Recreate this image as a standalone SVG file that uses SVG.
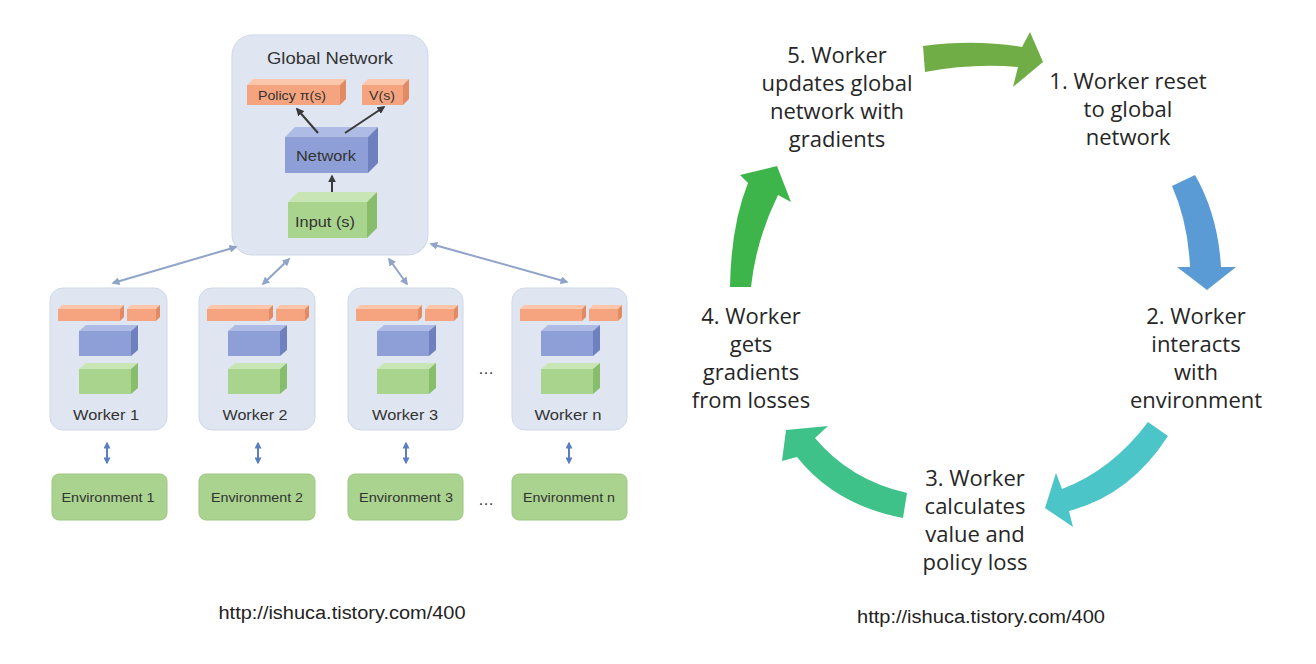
<svg xmlns="http://www.w3.org/2000/svg" xmlns:xlink="http://www.w3.org/1999/xlink" width="1316" height="664" viewBox="0 0 1316 664">
<style>
.panel{fill:#dfe6f2;stroke:#cfd8e8;stroke-width:1}
.env{fill:#a9d38e;stroke:#9cc781;stroke-width:1}
.of{fill:#f6a47f}.ot{fill:#fbc6aa}.os{fill:#e38a62}
.bf{fill:#8d9fd6}.bt{fill:#aebbe5}.bs{fill:#6f80bf}
.gf{fill:#a8d48e}.gt{fill:#c8e6b5}.gs{fill:#88bd6b}
.lbl{font-family:"Liberation Sans",Arial,sans-serif;fill:#333;text-anchor:middle}
.step{font-family:"Open Sans","Liberation Sans",sans-serif;font-size:22px;fill:#262626;text-anchor:middle}
.url{font-family:"Liberation Sans",Arial,sans-serif;font-size:18px;fill:#222;text-anchor:middle}
.dark{stroke:#3a3a3a;stroke-width:2;fill:none}
.link{stroke:#8fa4c8;stroke-width:2;fill:none}
.envlink{stroke:#5a7ec2;stroke-width:2;fill:none}
</style>
<defs>
<marker id="ah" viewBox="0 0 10 10" refX="8" refY="5" markerWidth="4" markerHeight="4" orient="auto-start-reverse">
<path d="M0,0 L10,5 L0,10 Z" fill="#3a3a3a"/>
</marker>
<marker id="lh" viewBox="0 0 10 10" refX="8" refY="5" markerWidth="4" markerHeight="4" orient="auto-start-reverse">
<path d="M0,0 L10,5 L0,10 Z" fill="#8fa4c8"/>
</marker>
<marker id="eh" viewBox="0 0 10 10" refX="8" refY="5" markerWidth="3.5" markerHeight="3.5" orient="auto-start-reverse">
<path d="M0,0 L10,5 L0,10 Z" fill="#5a7ec2"/>
</marker>
<g id="parts">
<rect class="of" x="8" y="309" width="62" height="12"/>
<polygon class="ot" points="8,309 12,305 74,305 70,309"/>
<polygon class="os" points="70,309 74,305 74,317 70,321"/>
<rect class="of" x="77" y="309" width="29" height="12"/>
<polygon class="ot" points="77,309 81,305 110,305 106,309"/>
<polygon class="os" points="106,309 110,305 110,317 106,321"/>
<rect class="bf" x="29" y="331" width="52" height="25"/>
<polygon class="bt" points="29,331 36,325 88,325 81,331"/>
<polygon class="bs" points="81,331 88,325 88,350 81,356"/>
<rect class="gf" x="29" y="369" width="52" height="25"/>
<polygon class="gt" points="29,369 36,363 88,363 81,369"/>
<polygon class="gs" points="81,369 88,363 88,388 81,394"/>
</g>
</defs>
<rect width="1316" height="664" fill="#ffffff"/>

<g id="global">
<rect class="panel" x="232" y="35" width="196" height="220" rx="20"/>
<text class="lbl" x="330" y="64" font-size="16" textLength="126" lengthAdjust="spacingAndGlyphs">Global Network</text>
<g id="policy">
<rect class="of" x="247" y="85" width="93" height="20"/>
<polygon class="ot" points="247,85 253,79 346,79 340,85"/>
<polygon class="os" points="340,85 346,79 346,99 340,105"/>
<text class="lbl" x="292" y="100" font-size="13" textLength="68" lengthAdjust="spacingAndGlyphs">Policy π(s)</text>
</g>
<g id="value">
<rect class="of" x="362" y="85" width="41" height="20"/>
<polygon class="ot" points="362,85 368,79 409,79 403,85"/>
<polygon class="os" points="403,85 409,79 409,99 403,105"/>
<text class="lbl" x="382" y="100" font-size="13" textLength="26" lengthAdjust="spacingAndGlyphs">V(s)</text>
</g>
<g id="network">
<rect class="bf" x="285" y="137" width="83" height="36"/>
<polygon class="bt" points="285,137 295,127 378,127 368,137"/>
<polygon class="bs" points="368,137 378,127 378,163 368,173"/>
<text class="lbl" x="326" y="161" font-size="14" textLength="60" lengthAdjust="spacingAndGlyphs">Network</text>
</g>
<g id="input">
<rect class="gf" x="288" y="202" width="79" height="36"/>
<polygon class="gt" points="288,202 298,192 377,192 367,202"/>
<polygon class="gs" points="367,202 377,192 377,228 367,238"/>
<text class="lbl" x="325" y="227" font-size="14" textLength="60" lengthAdjust="spacingAndGlyphs">Input (s)</text>
</g>
</g>

<g id="worker1"><rect class="panel" x="50" y="288" width="117" height="142" rx="13"/><use xlink:href="#parts" transform="translate(50,0)"/><text class="lbl" x="106" y="420" font-size="15" textLength="66" lengthAdjust="spacingAndGlyphs">Worker 1</text></g>
<g id="worker2"><rect class="panel" x="199" y="288" width="116" height="142" rx="13"/><use xlink:href="#parts" transform="translate(199,0)"/><text class="lbl" x="255" y="420" font-size="15" textLength="65" lengthAdjust="spacingAndGlyphs">Worker 2</text></g>
<g id="worker3"><rect class="panel" x="348" y="288" width="115" height="142" rx="13"/><use xlink:href="#parts" transform="translate(348,0)"/><text class="lbl" x="405" y="420" font-size="15" textLength="66" lengthAdjust="spacingAndGlyphs">Worker 3</text></g>
<g id="workern"><rect class="panel" x="512" y="288" width="115" height="142" rx="13"/><use xlink:href="#parts" transform="translate(512,0)"/><text class="lbl" x="568" y="420" font-size="15" textLength="67" lengthAdjust="spacingAndGlyphs">Worker n</text></g>

<g id="env1"><rect class="env" x="52" y="474" width="115" height="46" rx="7"/><text class="lbl" x="108" y="502" font-size="13" textLength="93" lengthAdjust="spacingAndGlyphs">Environment 1</text></g>
<g id="env2"><rect class="env" x="199" y="474" width="116" height="46" rx="7"/><text class="lbl" x="257" y="502" font-size="13" textLength="92" lengthAdjust="spacingAndGlyphs">Environment 2</text></g>
<g id="env3"><rect class="env" x="348" y="474" width="115" height="46" rx="7"/><text class="lbl" x="406" y="502" font-size="13" textLength="94" lengthAdjust="spacingAndGlyphs">Environment 3</text></g>
<g id="envn"><rect class="env" x="512" y="474" width="115" height="46" rx="7"/><text class="lbl" x="569" y="502" font-size="13" textLength="92" lengthAdjust="spacingAndGlyphs">Environment n</text></g>

<g id="dots">
<text class="lbl" x="486" y="374" font-size="16">…</text>
<text class="lbl" x="486" y="505" font-size="16">…</text>
</g>

<g id="connectors">
<line class="dark" x1="318" y1="133" x2="297" y2="109" marker-end="url(#ah)"/>
<line class="dark" x1="345" y1="133" x2="384" y2="107" marker-end="url(#ah)"/>
<line class="dark" x1="332" y1="192" x2="332" y2="176" marker-end="url(#ah)"/>
<line class="link" x1="236" y1="247" x2="113" y2="283" marker-start="url(#lh)" marker-end="url(#lh)"/>
<line class="link" x1="289" y1="259" x2="263" y2="284" marker-start="url(#lh)" marker-end="url(#lh)"/>
<line class="link" x1="389" y1="259" x2="407" y2="284" marker-start="url(#lh)" marker-end="url(#lh)"/>
<line class="link" x1="431" y1="244" x2="567" y2="282" marker-start="url(#lh)" marker-end="url(#lh)"/>
<line class="envlink" x1="107" y1="443" x2="107" y2="463" marker-start="url(#eh)" marker-end="url(#eh)"/>
<line class="envlink" x1="258" y1="443" x2="258" y2="463" marker-start="url(#eh)" marker-end="url(#eh)"/>
<line class="envlink" x1="406" y1="443" x2="406" y2="463" marker-start="url(#eh)" marker-end="url(#eh)"/>
<line class="envlink" x1="569" y1="443" x2="569" y2="463" marker-start="url(#eh)" marker-end="url(#eh)"/>

<path id="arrow51" fill="#70ad47" d="M923 46 Q975 39 1022 47 L1030 32 L1043 62 L1013 87 L1018 67 Q972 63 925 72 Z"/>
<path id="arrow12" fill="#5b9bd5" d="M1172 186 Q1188 222 1190 267 L1177 267 L1207 290 L1236 267 L1221 267 Q1218 215 1195 175 Z"/>
<path id="arrow23" fill="#4bc5c8" d="M1148 422 Q1112 470 1062 489 L1056 473 L1045 508 L1073 527 L1069 511 Q1130 495 1168 436 Z"/>
<path id="arrow34" fill="#3ec28a" d="M907 493 Q850 480 815 438 L828 426 L786 430 L782 461 L797 457 Q835 505 903 518 Z"/>
<path id="arrow45" fill="#3db54a" d="M730 287 Q731 225 748 183 L740 175 L777 166 L791 202 L778 195 Q756 240 751 287 Z"/>
</g>

<g id="step5"><text class="step" x="837" y="63">5. Worker</text><text class="step" x="837" y="91">updates global</text><text class="step" x="837" y="119">network with</text><text class="step" x="837" y="147">gradients</text></g>
<g id="step1"><text class="step" x="1128" y="89">1. Worker reset</text><text class="step" x="1128" y="117">to global</text><text class="step" x="1128" y="145">network</text></g>
<g id="step2"><text class="step" x="1196" y="324">2. Worker</text><text class="step" x="1196" y="352">interacts</text><text class="step" x="1196" y="380">with</text><text class="step" x="1196" y="408">environment</text></g>
<g id="step3"><text class="step" x="975" y="486">3. Worker</text><text class="step" x="975" y="514">calculates</text><text class="step" x="975" y="542">value and</text><text class="step" x="975" y="570">policy loss</text></g>
<g id="step4"><text class="step" x="751" y="324">4. Worker</text><text class="step" x="751" y="352">gets</text><text class="step" x="751" y="380">gradients</text><text class="step" x="751" y="408">from losses</text></g>

<text class="url" x="342" y="619" textLength="247" lengthAdjust="spacingAndGlyphs">http://ishuca.tistory.com/400</text>
<text class="url" x="981" y="623" textLength="248" lengthAdjust="spacingAndGlyphs">http://ishuca.tistory.com/400</text>
</svg>
